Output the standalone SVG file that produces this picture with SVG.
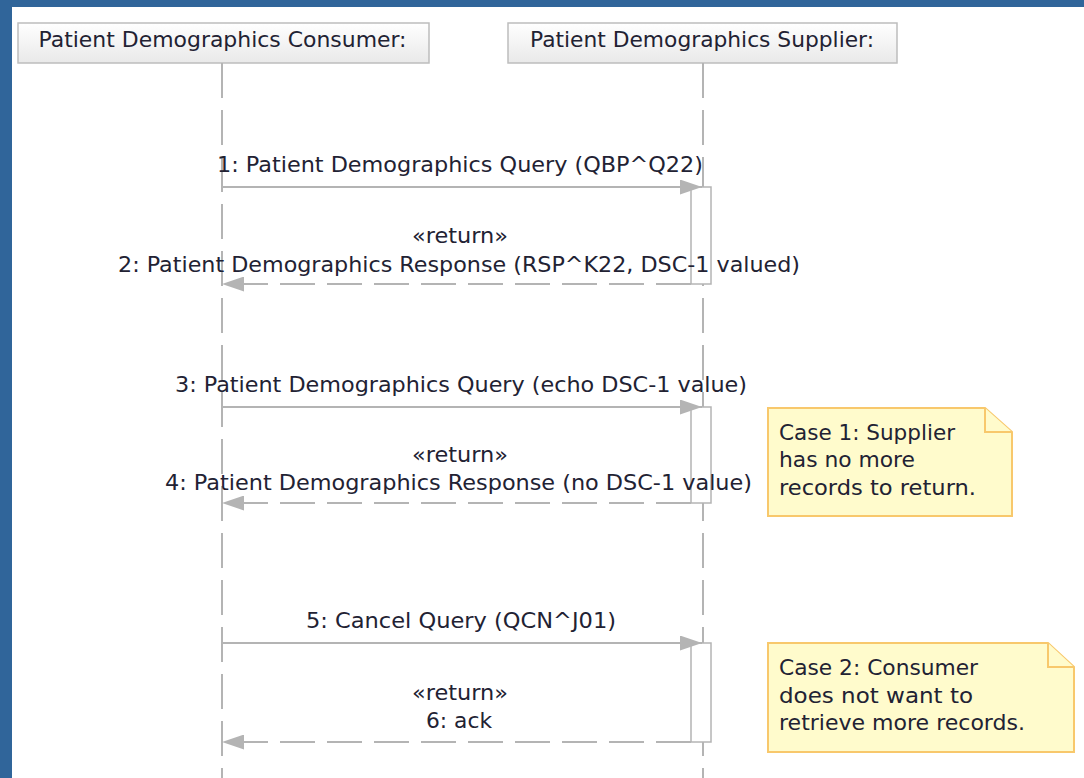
<svg xmlns="http://www.w3.org/2000/svg" width="1084" height="778" viewBox="0 0 1084 778">
<defs>
<linearGradient id="hdr" x1="0" y1="0" x2="0" y2="1">
<stop offset="0" stop-color="#ffffff"/>
<stop offset="1" stop-color="#e9e9e9"/>
</linearGradient>
<marker id="ah" markerUnits="userSpaceOnUse" markerWidth="22" markerHeight="15" refX="22" refY="7.5" orient="auto">
<path d="M0,0 L22,7.5 L0,15 z" fill="#b4b4b4"/>
</marker>
</defs>
<style>
text{font-family:"DejaVu Sans","Liberation Sans",sans-serif;font-size:21px;fill:#222233}
.c{text-anchor:middle}
.hdr{fill:url(#hdr);stroke:#bdbdbd;stroke-width:1.5}
.life{stroke:#b4b4b4;stroke-width:2;stroke-dasharray:35 12;fill:none}
.act{fill:#ffffff;stroke:#b4b4b4;stroke-width:1.5}
.msg{stroke:#b4b4b4;stroke-width:2;fill:none;marker-end:url(#ah)}
.ret{stroke:#b4b4b4;stroke-width:2;fill:none;stroke-dasharray:35 12;marker-end:url(#ah)}
.note{fill:#fffbcc;stroke:#f8c86c;stroke-width:2}
</style>
<rect x="0" y="0" width="1084" height="778" fill="#30659a"/>
<rect x="12" y="7" width="1072" height="771" fill="#ffffff"/>

<g id="consumer">
<rect class="hdr" x="18" y="23" width="411" height="40"/>
<text class="c" x="222.5" y="47" textLength="368" lengthAdjust="spacingAndGlyphs">Patient Demographics Consumer:</text>
<line class="life" x1="222" y1="63" x2="222" y2="778"/>
</g>

<g id="supplier">
<rect class="hdr" x="508" y="23" width="389" height="40"/>
<text class="c" x="702" y="47" textLength="344" lengthAdjust="spacingAndGlyphs">Patient Demographics Supplier:</text>
<line class="life" x1="703" y1="63" x2="703" y2="778"/>
<rect class="act" x="691" y="187" width="20" height="97"/>
<rect class="act" x="691" y="407" width="20" height="96"/>
<rect class="act" x="691" y="643" width="20" height="99"/>
</g>

<g id="connectors">
<line class="msg" x1="222" y1="187" x2="702" y2="187"/>
<line class="ret" x1="691" y1="284" x2="222" y2="284"/>
<line class="msg" x1="222" y1="407" x2="702" y2="407"/>
<line class="ret" x1="691" y1="503" x2="222" y2="503"/>
<line class="msg" x1="222" y1="643" x2="702" y2="643"/>
<line class="ret" x1="691" y1="742" x2="222" y2="742"/>
</g>

<g id="labels">
<text class="c" x="460" y="172" textLength="486" lengthAdjust="spacingAndGlyphs">1: Patient Demographics Query (QBP^Q22)</text>
<text class="c" x="460" y="243" textLength="96" lengthAdjust="spacingAndGlyphs">«return»</text>
<text class="c" x="459" y="272" textLength="682" lengthAdjust="spacingAndGlyphs">2: Patient Demographics Response (RSP^K22, DSC-1 valued)</text>
<text class="c" x="461" y="392" textLength="572" lengthAdjust="spacingAndGlyphs">3: Patient Demographics Query (echo DSC-1 value)</text>
<text class="c" x="460" y="462" textLength="96" lengthAdjust="spacingAndGlyphs">«return»</text>
<text class="c" x="458.5" y="490" textLength="587" lengthAdjust="spacingAndGlyphs">4: Patient Demographics Response (no DSC-1 value)</text>
<text class="c" x="461" y="628" textLength="310" lengthAdjust="spacingAndGlyphs">5: Cancel Query (QCN^J01)</text>
<text class="c" x="460" y="700" textLength="96" lengthAdjust="spacingAndGlyphs">«return»</text>
<text class="c" x="459" y="728" textLength="66" lengthAdjust="spacingAndGlyphs">6: ack</text>
</g>

<g id="note1">
<path class="note" d="M768,408 H985 L1012,432 V516 H768 Z"/>
<path class="note" d="M985,408 V432 H1012"/>
<text x="779" y="440" textLength="176" lengthAdjust="spacingAndGlyphs">Case 1: Supplier</text>
<text x="779" y="467" textLength="136" lengthAdjust="spacingAndGlyphs">has no more</text>
<text x="779" y="495" textLength="197" lengthAdjust="spacingAndGlyphs">records to return.</text>
</g>

<g id="note2">
<path class="note" d="M768,643 H1048 L1074,667 V752 H768 Z"/>
<path class="note" d="M1048,643 V667 H1074"/>
<text x="779" y="675" textLength="199" lengthAdjust="spacingAndGlyphs">Case 2: Consumer</text>
<text x="779" y="703" textLength="194" lengthAdjust="spacingAndGlyphs">does not want to</text>
<text x="779" y="730" textLength="246" lengthAdjust="spacingAndGlyphs">retrieve more records.</text>
</g>
</svg>
